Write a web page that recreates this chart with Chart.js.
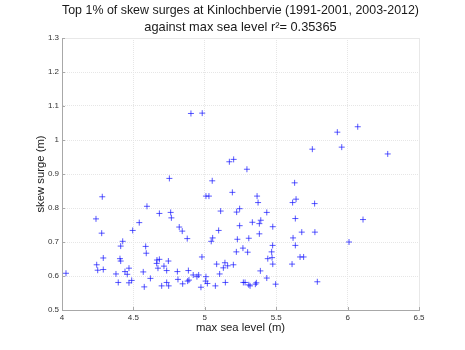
<!DOCTYPE html>
<html>
<head>
<meta charset="utf-8">
<script src="https://cdn.jsdelivr.net/npm/chart.js@4"></script>
<style>
 body { margin: 0; background: #fff; }
 canvas { display: block; }
</style>
</head>
<body>
<canvas id="chart1" width="465" height="350"></canvas>
<script>
// max sea level (m) per event
var seaLevel = [
 4.903, 4.982, 5.753, 5.172, 5.202, 5.295, 5.928, 6.071, 5.959, 6.281, 6.108, 6.010,
 4.028, 4.752, 4.282, 4.595, 4.238, 4.682, 4.761, 4.766, 4.541, 4.278, 4.495, 4.821,
 4.842, 4.877, 4.425, 4.411, 4.586, 4.590, 4.289, 4.406, 4.411, 4.243, 4.250, 4.289,
 4.665, 4.682, 4.745, 4.663, 4.714, 4.672, 4.733, 4.469, 4.441, 4.457, 4.378, 4.569,
 4.808, 4.885, 4.919, 4.945, 4.619, 4.812, 4.880, 4.889, 4.394, 4.488, 4.469, 4.733,
 4.747, 4.698, 4.845, 4.576,
 5.052, 5.629, 5.008, 5.029, 5.193, 5.366, 5.373, 5.639, 5.615, 5.769, 5.111, 5.244,
 5.223, 5.434, 5.634, 5.333, 5.392, 5.382, 5.244, 5.476, 5.097, 5.382, 5.679, 5.771,
 5.055, 5.045, 5.228, 5.308, 5.618, 5.634, 5.475, 5.267, 5.221, 5.300, 5.468, 4.980,
 5.441, 5.471, 5.667, 5.692, 5.083, 5.141, 5.160, 5.130, 5.200, 5.476, 5.611, 5.389,
 5.104, 4.957, 5.008, 5.434, 5.006, 5.018, 4.973, 5.074, 5.144, 5.270, 5.282, 5.308,
 5.317, 5.354, 5.361, 5.496, 5.788
];
// skew surge (m) per event
var skewSurge = [
 1.078, 1.079, 0.973, 0.936, 0.943, 0.914, 1.023, 1.039, 0.979, 0.959, 0.766, 0.700,
 0.608, 0.887, 0.833, 0.805, 0.768, 0.784, 0.787, 0.771, 0.757, 0.726, 0.734, 0.744,
 0.732, 0.710, 0.702, 0.688, 0.687, 0.667, 0.653, 0.651, 0.644, 0.633, 0.617, 0.619,
 0.647, 0.649, 0.644, 0.637, 0.629, 0.623, 0.616, 0.623, 0.613, 0.605, 0.606, 0.612,
 0.613, 0.616, 0.603, 0.598, 0.593, 0.590, 0.585, 0.588, 0.581, 0.587, 0.580, 0.581,
 0.571, 0.571, 0.577, 0.568,
 0.880, 0.874, 0.835, 0.835, 0.846, 0.835, 0.816, 0.826, 0.816, 0.813, 0.791, 0.798,
 0.788, 0.787, 0.769, 0.758, 0.764, 0.754, 0.748, 0.745, 0.734, 0.724, 0.729, 0.729,
 0.712, 0.702, 0.708, 0.711, 0.712, 0.690, 0.690, 0.682, 0.671, 0.670, 0.671, 0.656,
 0.651, 0.654, 0.656, 0.656, 0.635, 0.639, 0.630, 0.624, 0.633, 0.635, 0.635, 0.615,
 0.606, 0.603, 0.598, 0.594, 0.585, 0.578, 0.567, 0.571, 0.581, 0.581, 0.581, 0.574,
 0.571, 0.576, 0.580, 0.576, 0.583
];
var xTicks = [4, 4.5, 5, 5.5, 6, 6.5];
var yTicks = [0.5, 0.6, 0.7, 0.8, 0.9, 1, 1.1, 1.2, 1.3];
var xTickLabels = ['4', '4.5', '5', '5.5', '6', '6.5'];
var yTickLabels = ['0.5', '0.6', '0.7', '0.8', '0.9', '1', '1.1', '1.2', '1.3'];

var points = seaLevel.map(function (x, i) { return { x: x, y: skewSurge[i] }; });

Chart.defaults.font.family = '"Liberation Sans", Arial, sans-serif';

// light box on top/right and small inward tick marks, matlab style
var axesBox = {
 id: 'axesBox',
 beforeDatasetsDraw: function (chart) {
 var c = chart.ctx, a = chart.chartArea;
 var xs = chart.scales.x, ys = chart.scales.y;
 c.save();
 c.strokeStyle = '#e8e8e8';
 c.lineWidth = 1;
 c.beginPath();
 c.moveTo(a.left, a.top + 0.5); c.lineTo(a.right + 0.5, a.top + 0.5);
 c.lineTo(a.right + 0.5, a.bottom);
 c.stroke();
 c.strokeStyle = '#a8a8a8';
 c.beginPath();
 xTicks.forEach(function (v) {
 var px = Math.round(xs.getPixelForValue(v)) + 0.5;
 c.moveTo(px, a.bottom); c.lineTo(px, a.bottom - 3);
 });
 yTicks.forEach(function (v) {
 var py = Math.round(ys.getPixelForValue(v)) + 0.5;
 c.moveTo(a.left, py); c.lineTo(a.left + 3, py);
 });
 c.stroke();
 c.restore();
 }
};

var ctx1 = document.getElementById('chart1').getContext('2d');
var chart1 = new Chart(ctx1, {
 type: 'scatter',
 data: {
 datasets: [{
 label: 'skew surge',
 data: points,
 pointStyle: 'cross',
 pointRadius: 3,
 pointHoverRadius: 3,
 borderColor: 'rgba(20, 20, 255, 0.7)',
 backgroundColor: 'rgba(20, 20, 255, 0.7)',
 borderWidth: 1
 }]
 },
 options: {
 responsive: false,
 animation: false,
 layout: { padding: { left: 34, right: 46, top: 0, bottom: 15 } },
 plugins: {
 legend: { display: false },
 tooltip: { enabled: false },
 title: {
 display: true,
 fullSize: false,
 text: ['Top 1% of skew surges at Kinlochbervie (1991-2001, 2003-2012)',
 'against max sea level r\u00b2= 0.35365'],
 color: '#1a1a1a',
 font: { size: 12.8, weight: 'normal', lineHeight: 17 / 12.8 },
 padding: { top: 2, bottom: 2 }
 }
 },
 scales: {
 x: {
 type: 'linear',
 min: 4,
 max: 6.5,
 afterBuildTicks: function (s) { s.ticks = xTicks.map(function (v) { return { value: v }; }); },
 afterFit: function (s) { s.height = 25; },
 ticks: {
 color: '#333',
 font: { size: 8 },
 padding: 3,
 maxRotation: 0,
 callback: function (v) { return xTickLabels[xTicks.indexOf(v)]; }
 },
 grid: { color: '#e6e6e6', drawTicks: false },
 border: { color: '#a8a8a8', width: 1, dash: [1, 1] },
 title: {
 display: true,
 text: 'max sea level (m)',
 color: '#1a1a1a',
 font: { size: 11.3 },
 padding: { top: 0, bottom: 0 }
 }
 },
 y: {
 type: 'linear',
 min: 0.5,
 max: 1.3,
 afterBuildTicks: function (s) { s.ticks = yTicks.map(function (v) { return { value: v }; }); },
 afterFit: function (s) { s.width = 28; },
 ticks: {
 color: '#333',
 font: { size: 8 },
 padding: 3,
 callback: function (v) { return yTickLabels[yTicks.indexOf(v)]; }
 },
 grid: { color: '#e6e6e6', drawTicks: false },
 border: { color: '#a8a8a8', width: 1, dash: [1, 1] },
 title: {
 display: true,
 text: 'skew surge (m)',
 color: '#1a1a1a',
 font: { size: 11.3 },
 padding: { top: 0, bottom: 0 }
 }
 }
 }
 },
 plugins: [axesBox]
});
</script>
</body>
</html>
